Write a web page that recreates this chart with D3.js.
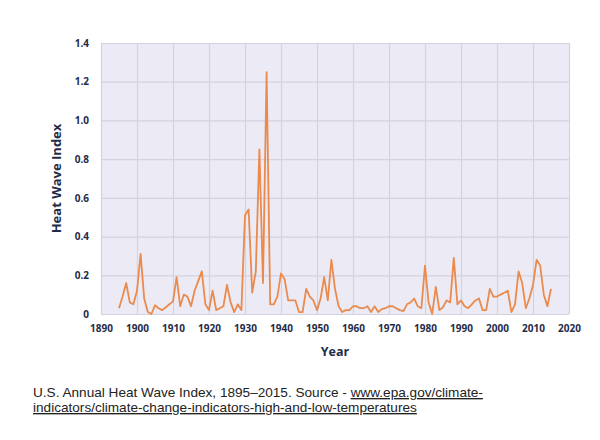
<!DOCTYPE html>
<html>
<head>
<meta charset="utf-8">
<script src="https://cdn.jsdelivr.net/npm/d3@7"></script>
<style>
  body { margin: 0; background: #fff; }
  .tick text { font-family: "Open Sans", sans-serif; font-weight: 700; font-size: 10px; fill: #1f2b47; }
  .domain { display: none; }
  .grid line { stroke: #d3d2df; stroke-width: 1.2; }
</style>
</head>
<body>
<svg id="chart"></svg>
<script>
// heat wave index, one value per year 1895-2015
var firstYear = 1895;
var heatIndex = [
  0.03, 0.09, 0.16, 0.06, 0.05,                               // 1895-1899
  0.12, 0.31, 0.08, 0.01, 0.00, 0.045, 0.03, 0.02, 0.035, 0.05, // 1900s
  0.065, 0.19, 0.04, 0.10, 0.09, 0.04, 0.12, 0.17, 0.22, 0.05,  // 1910s
  0.02, 0.12, 0.02, 0.03, 0.04, 0.15, 0.06, 0.01, 0.05, 0.02,   // 1920s
  0.51, 0.54, 0.11, 0.22, 0.85, 0.16, 1.25, 0.05, 0.05, 0.09,   // 1930s
  0.21, 0.18, 0.07, 0.07, 0.07, 0.01, 0.01, 0.13, 0.09, 0.07,   // 1940s
  0.02, 0.08, 0.19, 0.07, 0.28, 0.13, 0.04, 0.01, 0.02, 0.02,   // 1950s
  0.04, 0.04, 0.03, 0.03, 0.04, 0.01, 0.04, 0.01, 0.025, 0.03,  // 1960s
  0.04, 0.04, 0.03, 0.02, 0.015, 0.05, 0.06, 0.08, 0.04, 0.03,  // 1970s
  0.25, 0.06, 0.00, 0.14, 0.02, 0.035, 0.07, 0.06, 0.29, 0.05,  // 1980s
  0.07, 0.04, 0.03, 0.05, 0.07, 0.08, 0.02, 0.02, 0.13, 0.09,   // 1990s
  0.09, 0.10, 0.11, 0.12, 0.01, 0.05, 0.22, 0.16, 0.03, 0.08,   // 2000s
  0.15, 0.28, 0.25, 0.10, 0.04, 0.13                            // 2010-2015
];
var xTicks = [1890, 1900, 1910, 1920, 1930, 1940, 1950, 1960, 1970, 1980, 1990, 2000, 2010, 2020];
var yTicks = [0, 0.2, 0.4, 0.6, 0.8, 1.0, 1.2, 1.4];

var data = heatIndex.map(function(v, i) { return { year: firstYear + i, value: v }; });

var w = 600, h = 440;
var plotL = 101, plotR = 569, plotT = 43, plotB = 314;

var svg = d3.select("#chart").attr("width", w).attr("height", h);

var x = d3.scaleLinear().domain([1890, 2020]).range([plotL, plotR]);
var y = d3.scaleLinear().domain([0, 1.4]).range([plotB, plotT]);

svg.append("rect")
    .attr("x", plotL).attr("y", plotT)
    .attr("width", plotR - plotL).attr("height", plotB - plotT)
    .attr("fill", "#ecebf5");

// grid lines
svg.append("g")
    .attr("class", "grid")
    .attr("transform", "translate(0," + plotB + ")")
    .call(d3.axisBottom(x).tickValues(xTicks).tickSize(-(plotB - plotT)).tickFormat(""));
svg.append("g")
    .attr("class", "grid")
    .attr("transform", "translate(" + plotL + ",0)")
    .call(d3.axisLeft(y).tickValues(yTicks).tickSize(-(plotR - plotL)).tickFormat(""));

// tick labels
svg.append("g")
    .attr("transform", "translate(0," + (plotB + 8) + ")")
    .call(d3.axisBottom(x).tickValues(xTicks).tickSize(0).tickFormat(d3.format("d")));
svg.append("g")
    .attr("transform", "translate(" + (plotL - 9) + ",0)")
    .call(d3.axisLeft(y).tickValues(yTicks).tickSize(0)
        .tickFormat(function(d) { return d === 0 ? "0" : d3.format(".1f")(d); }));

var line = d3.line()
    .x(function(d) { return x(d.year); })
    .y(function(d) { return y(d.value); });

svg.append("path")
    .datum(data)
    .attr("d", line)
    .attr("fill", "none")
    .attr("stroke", "#ea8a4c")
    .attr("stroke-width", 1.8)
    .attr("stroke-linejoin", "round");

svg.append("text")
    .attr("transform", "translate(58," + ((plotT + plotB) / 2) + ") rotate(-90)")
    .attr("text-anchor", "middle")
    .attr("dominant-baseline", "middle")
    .attr("font-family", "Open Sans, sans-serif")
    .attr("font-weight", 700)
    .attr("font-size", "13px")
    .attr("fill", "#1f2b47")
    .text("Heat Wave Index");

svg.append("text")
    .attr("x", (plotL + plotR) / 2)
    .attr("y", 356)
    .attr("text-anchor", "middle")
    .attr("font-family", "Open Sans, sans-serif")
    .attr("font-weight", 700)
    .attr("font-size", "12.5px")
    .attr("fill", "#1f2b47")
    .text("Year");

// caption
var cap = svg.append("text")
    .attr("font-family", "Liberation Sans, Arial, sans-serif")
    .attr("font-size", "13.6px")
    .attr("fill", "#222");
cap.append("tspan")
    .attr("x", 33).attr("y", 397)
    .text("U.S. Annual Heat Wave Index, 1895\u20132015. Source - ");
cap.append("tspan")
    .attr("text-decoration", "underline")
    .text("www.epa.gov/climate-");
cap.append("tspan")
    .attr("x", 33).attr("y", 412)
    .attr("text-decoration", "underline")
    .text("indicators/climate-change-indicators-high-and-low-temperatures");
</script>
</body>
</html>
